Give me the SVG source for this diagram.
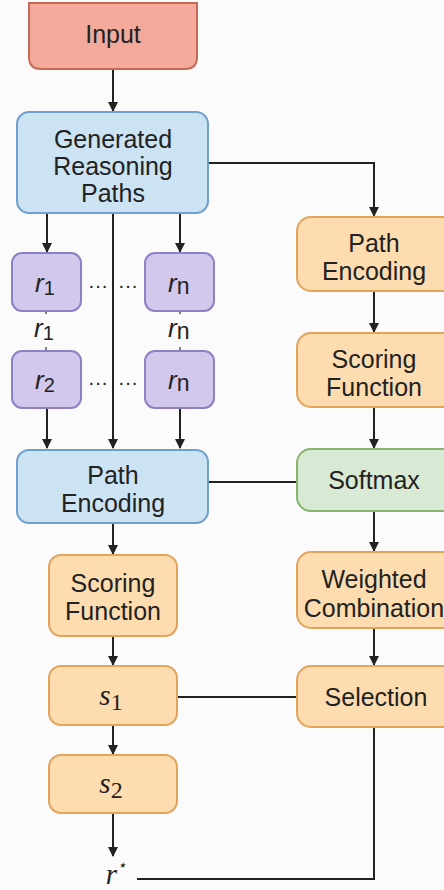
<svg xmlns="http://www.w3.org/2000/svg" width="444" height="890" viewBox="0 0 444 890">
<style>
.t{font-family:"Liberation Sans",Arial,sans-serif;font-size:25px;fill:#222;text-anchor:middle}
.d{font-family:"Liberation Sans",Arial,sans-serif;font-size:20px;fill:#222;text-anchor:middle}
.m{font-family:"Liberation Serif","DejaVu Serif",serif;font-style:italic;font-size:29px;fill:#222;text-anchor:middle}
.ri{font-family:"Liberation Sans",Arial,sans-serif;font-size:26px;fill:#222}
.red{fill:#f3aa9b;stroke:#c46a58;stroke-width:2}
.blue{fill:#cbe3f3;stroke:#6f9fcb;stroke-width:2}
.pur{fill:#d2c8ec;stroke:#8f7fc4;stroke-width:2}
.org{fill:#fddcb0;stroke:#e2a35a;stroke-width:2}
.grn{fill:#d8e9d4;stroke:#86b36e;stroke-width:2}
.c{fill:none;stroke:#222;stroke-width:2}
</style>
<defs>
<marker id="ah" markerWidth="10" markerHeight="10" refX="9" refY="5" orient="auto" markerUnits="userSpaceOnUse">
<path d="M0,0 L10,5 L0,10 z" fill="#222"/>
</marker>
</defs>
<rect width="444" height="890" fill="#fbfbfb"/>
<g id="connectors">
<line class="c" x1="113" y1="69" x2="113" y2="111" marker-end="url(#ah)"/>
<polyline class="c" points="208,163 374,163 374,216" marker-end="url(#ah)"/>
<line class="c" x1="47" y1="213" x2="47" y2="252" marker-end="url(#ah)"/>
<line class="c" x1="180" y1="213" x2="180" y2="252" marker-end="url(#ah)"/>
<line class="c" x1="113" y1="213" x2="113" y2="448" marker-end="url(#ah)"/>
<line x1="46" y1="311" x2="46" y2="351" stroke="#555" stroke-width="1.5" stroke-dasharray="3,3"/>
<line x1="180" y1="311" x2="180" y2="351" stroke="#555" stroke-width="1.5" stroke-dasharray="3,3"/>
<line class="c" x1="47" y1="408" x2="47" y2="448" marker-end="url(#ah)"/>
<line class="c" x1="180" y1="408" x2="180" y2="448" marker-end="url(#ah)"/>
<line class="c" x1="374" y1="291" x2="374" y2="332" marker-end="url(#ah)"/>
<line class="c" x1="374" y1="407" x2="374" y2="448" marker-end="url(#ah)"/>
<line class="c" x1="208" y1="482" x2="297" y2="482"/>
<line class="c" x1="374" y1="511" x2="374" y2="551" marker-end="url(#ah)"/>
<line class="c" x1="374" y1="628" x2="374" y2="665" marker-end="url(#ah)"/>
<line class="c" x1="113" y1="523" x2="113" y2="554" marker-end="url(#ah)"/>
<line class="c" x1="113" y1="636" x2="113" y2="665" marker-end="url(#ah)"/>
<line class="c" x1="177" y1="697" x2="297" y2="697"/>
<line class="c" x1="113" y1="725" x2="113" y2="754" marker-end="url(#ah)"/>
<line class="c" x1="113" y1="813" x2="113" y2="856" marker-end="url(#ah)"/>
<polyline class="c" points="137,879 374,879 374,727"/>
</g>
<g id="input">
<path class="red" d="M29,3 H197 V57 Q197,69 185,69 H41 Q29,69 29,57 Z"/>
<text class="t" x="113" y="43">Input</text>
</g>
<g id="generated">
<rect class="blue" x="17" y="112" width="191" height="101" rx="12"/>
<text class="t" x="113" y="148">Generated</text>
<text class="t" x="113" y="175">Reasoning</text>
<text class="t" x="113" y="202">Paths</text>
</g>
<g id="r1">
<rect class="pur" x="12" y="253" width="69" height="58" rx="10"/>
<text class="ri" x="35" y="292"><tspan font-style="italic">r</tspan><tspan font-size="20" dy="3">1</tspan></text>
</g>
<g id="rn1">
<rect class="pur" x="145" y="253" width="69" height="58" rx="10"/>
<text class="ri" x="168" y="292"><tspan font-style="italic">r</tspan><tspan font-size="23" dy="2">n</tspan></text>
</g>
<g id="dots1">
<text class="d" x="98" y="292">···</text>
<text class="d" x="128" y="292">···</text>
</g>
<g id="lbl-r1">
<rect x="32" y="316" width="28" height="30" fill="#fbfbfb"/>
<text class="ri" x="34" y="337"><tspan font-style="italic">r</tspan><tspan font-size="20" dy="3">1</tspan></text>
</g>
<g id="lbl-rn">
<rect x="166" y="316" width="28" height="28" fill="#fbfbfb"/>
<text class="ri" x="168" y="337"><tspan font-style="italic">r</tspan><tspan font-size="23" dy="2">n</tspan></text>
</g>
<g id="r2">
<rect class="pur" x="12" y="351" width="69" height="57" rx="10"/>
<text class="ri" x="35" y="389"><tspan font-style="italic">r</tspan><tspan font-size="20" dy="3">2</tspan></text>
</g>
<g id="rn2">
<rect class="pur" x="145" y="351" width="69" height="57" rx="10"/>
<text class="ri" x="168" y="389"><tspan font-style="italic">r</tspan><tspan font-size="23" dy="2">n</tspan></text>
</g>
<g id="dots2">
<text class="d" x="98" y="389">···</text>
<text class="d" x="128" y="389">···</text>
</g>
<g id="path-enc-right">
<rect class="org" x="297" y="217" width="160" height="74" rx="14"/>
<text class="t" x="374" y="252">Path</text>
<text class="t" x="374" y="280">Encoding</text>
</g>
<g id="scoring-right">
<rect class="org" x="297" y="333" width="160" height="74" rx="14"/>
<text class="t" x="374" y="368">Scoring</text>
<text class="t" x="374" y="396">Function</text>
</g>
<g id="softmax">
<rect class="grn" x="297" y="449" width="160" height="62" rx="14"/>
<text class="t" x="374" y="489">Softmax</text>
</g>
<g id="weighted">
<rect class="org" x="297" y="552" width="160" height="76" rx="14"/>
<text class="t" x="374" y="588">Weighted</text>
<text class="t" x="374" y="617">Combination</text>
</g>
<g id="selection">
<rect class="org" x="297" y="666" width="160" height="61" rx="14"/>
<text class="t" x="376" y="706">Selection</text>
</g>
<g id="path-enc-left">
<rect class="blue" x="17" y="450" width="191" height="73" rx="12"/>
<text class="t" x="113" y="484">Path</text>
<text class="t" x="113" y="512">Encoding</text>
</g>
<g id="scoring-left">
<rect class="org" x="49" y="555" width="128" height="81" rx="12"/>
<text class="t" x="113" y="592">Scoring</text>
<text class="t" x="113" y="620">Function</text>
</g>
<g id="s1">
<rect class="org" x="49" y="666" width="128" height="59" rx="12"/>
<text class="m" x="111" y="705">s<tspan font-style="normal" font-size="24" dy="5">1</tspan></text>
</g>
<g id="s2">
<rect class="org" x="49" y="755" width="128" height="58" rx="12"/>
<text class="m" x="111" y="793">s<tspan font-style="normal" font-size="24" dy="5">2</tspan></text>
</g>
<g id="rstar">
<text class="m" x="116" y="884" font-size="30">r<tspan font-size="15" dy="-14">⋆</tspan></text>
</g>
</svg>
